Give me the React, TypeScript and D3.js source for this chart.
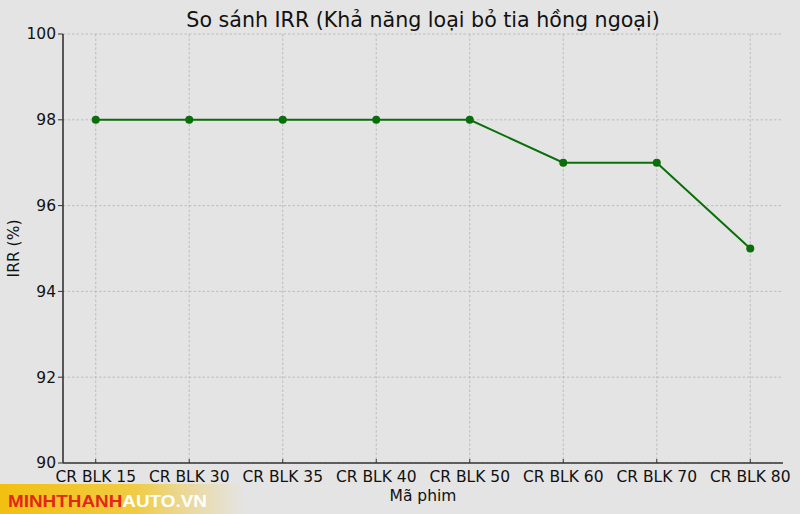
import * as d3 from 'd3'

// Dữ liệu
const categories = ['CR BLK 15', 'CR BLK 30', 'CR BLK 35', 'CR BLK 40', 'CR BLK 50', 'CR BLK 60', 'CR BLK 70', 'CR BLK 80']
const irrValues = [98, 98, 98, 98, 98, 97, 97, 95]
const yTicks = [90, 92, 94, 96, 98, 100]

const W = 800
const H = 514
const margin = { top: 34, right: 17, bottom: 51, left: 63 }
const font = '"DejaVu Sans", sans-serif'
const lineColor = '#0a6e0a'

export default function App() {
  const x = d3.scalePoint<string>()
    .domain(categories)
    .range([margin.left, W - margin.right])
    .padding(0.35)

  const y = d3.scaleLinear()
    .domain([90, 100])
    .range([H - margin.bottom, margin.top])

  const line = d3.line<number>()
    .x((_, i) => x(categories[i]) || 0)
    .y(d => y(d))

  const x0 = margin.left
  const x1 = W - margin.right
  const y0 = H - margin.bottom
  const y1 = margin.top
  const cx = (x0 + x1) / 2

  return (
    <div style={{ position: 'absolute', left: 0, top: 0 }}>
      <svg width={W} height={H} style={{ display: 'block', fontFamily: font }}>
        <defs>
          <linearGradient id="band" x1="0" x2="1" y1="0" y2="0">
            <stop offset="0" stopColor="#f2c010" />
            <stop offset="0.55" stopColor="#f2c830" stopOpacity="0.9" />
            <stop offset="1" stopColor="#f0d060" stopOpacity="0" />
          </linearGradient>
        </defs>
        <rect width={W} height={H} fill="#e4e4e4" />

        {/* grid */}
        {categories.map(c => (
          <line key={c} x1={x(c)} x2={x(c)} y1={y1} y2={y0}
            stroke="#b4b4b4" strokeWidth={0.8} strokeDasharray="2.5,2" />
        ))}
        {yTicks.map(t => (
          <line key={t} x1={x0} x2={x1} y1={y(t)} y2={y(t)}
            stroke="#b4b4b4" strokeWidth={0.8} strokeDasharray="2.5,2" />
        ))}

        {/* axes */}
        <line x1={x0} x2={x0} y1={y1} y2={y0} stroke="#333" strokeWidth={1.6} />
        <line x1={x0} x2={x1} y1={y0} y2={y0} stroke="#333" strokeWidth={1.6} />
        {yTicks.map(t => (
          <g key={t}>
            <line x1={x0 - 5} x2={x0} y1={y(t)} y2={y(t)} stroke="#333" strokeWidth={1} />
            <text x={x0 - 7} y={y(t)} dy="0.35em" textAnchor="end" fontSize={15.5} fill="#111">{t}</text>
          </g>
        ))}
        {categories.map(c => (
          <g key={c}>
            <line x1={x(c)} x2={x(c)} y1={y0 - 4} y2={y0} stroke="#333" strokeWidth={1} />
            <text x={x(c)} y={y0 + 19} textAnchor="middle" fontSize={15.5} fill="#111">{c}</text>
          </g>
        ))}

        {/* data */}
        <path d={line(irrValues) || ''} fill="none" stroke={lineColor} strokeWidth={2} />
        {irrValues.map((v, i) => (
          <circle key={i} cx={x(categories[i])} cy={y(v)} r={4} fill={lineColor} />
        ))}

        {/* labels */}
        <text x={cx} y={27} textAnchor="middle" fontSize={20.6} fill="#111">So sánh IRR (Khả năng loại bỏ tia hồng ngoại)</text>
        <text x={cx} y={501} textAnchor="middle" fontSize={15.5} fill="#111">Mã phim</text>
        <text transform={`translate(19,${(y0 + y1) / 2}) rotate(-90)`} textAnchor="middle" fontSize={15.5} fill="#111">IRR (%)</text>

        {/* watermark */}
        <rect x={0} y={484} width={245} height={30} fill="url(#band)" />
        <text x={8} y={507} fontSize={16} fontWeight="bold" fontFamily='"Liberation Sans", Arial, sans-serif'
          textLength={199} lengthAdjust="spacingAndGlyphs">
          <tspan fill="#e3261b">MINHTHANH</tspan>
          <tspan fill="#ffffff">AUTO.VN</tspan>
        </text>
      </svg>
    </div>
  )
}
